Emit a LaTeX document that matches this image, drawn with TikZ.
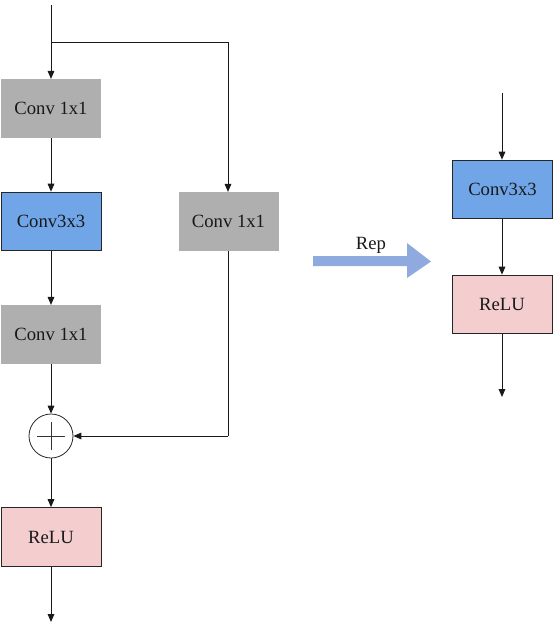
\documentclass[tikz,border=0pt]{standalone}
\usepackage{fontspec}
\setmainfont{Liberation Serif}
\usetikzlibrary{arrows.meta}
\definecolor{convgray}{RGB}{175,175,175}
\definecolor{convblue}{RGB}{112,166,232}
\definecolor{relupink}{RGB}{244,205,207}
\definecolor{repblue}{RGB}{142,170,222}

\begin{document}
\begin{tikzpicture}[x=0.75pt,y=0.75pt,yscale=-1,xscale=1,
  every node/.style={font=\fontsize{14}{16}\selectfont, text=black!90},
  blk/.style={rectangle, inner sep=0pt, minimum width=75pt, minimum height=44pt},
  grayblk/.style={blk, fill=convgray},
  blueblk/.style={blk, fill=convblue, draw=black!85, line width=0.75pt},
  pinkblk/.style={blk, fill=relupink, draw=black!85, line width=0.75pt},
  flow/.style={draw=black!90, line width=0.75pt, -{Triangle[length=6pt,width=5pt]}},
  wire/.style={draw=black!90, line width=0.75pt}]
\useasboundingbox (0,0) rectangle (553,629);

%left block
\node [grayblk] (convA) at (51,108.5) {Conv 1x1};
\node [blueblk] (convB) at (51,221.5) {Conv3x3};
\node [grayblk] (convC) at (51,334.5) {Conv 1x1};
\node [grayblk] (convS) at (228.5,221.5) {Conv 1x1};
\node [circle, draw=black!85, line width=0.6pt, minimum size=33pt, inner sep=0pt] (add) at (51,436) {};
\node [pinkblk] (reluL) at (51,537) {ReLU};

%plus sign
\draw [black!80, line width=0.6pt] ([xshift=-10.5pt]add.center) -- ([xshift=10.5pt]add.center);
\draw [black!80, line width=0.6pt] ([yshift=10.5pt]add.center) -- ([yshift=-10.5pt]add.center);

\coordinate (inL) at (51,5);
\coordinate (split) at (51,42);
\coordinate (turn) at (228,42);
\coordinate (merge) at (228,436);
\coordinate (outL) at (51,622);

\draw [flow] (inL) -- (convA);
\draw [wire] (split) -- (turn);
\draw [flow] (turn) -- (convS.north -| turn);
\draw [flow] (convA) -- (convB);
\draw [flow] (convB) -- (convC);
\draw [flow] (convC) -- (add);
\draw [wire] (convS.south -| merge) -- (merge);
\draw [flow] (merge) -- (add);
\draw [flow] (add) -- (reluL);
\draw [flow] (reluL) -- (outL);

%rep arrow
\fill [repblue] (313,256) -- (407,256) -- (407,243) -- (431,261.5) -- (407,278) -- (407,266) -- (313,266) -- cycle;
\node (rep) at (371,245) {Rep};

%right block
\node [blueblk] (convR) at (502.5,189.5) {Conv3x3};
\node [pinkblk] (reluR) at (502,304.5) {ReLU};
\coordinate (inR) at (502,93);
\coordinate (outR) at (502,397);

\draw [flow] (inR) -- (convR.north -| inR);
\draw [flow] (convR.south -| inR) -- (reluR.north -| inR);
\draw [flow] (reluR.south -| outR) -- (outR);

\end{tikzpicture}
\end{document}
